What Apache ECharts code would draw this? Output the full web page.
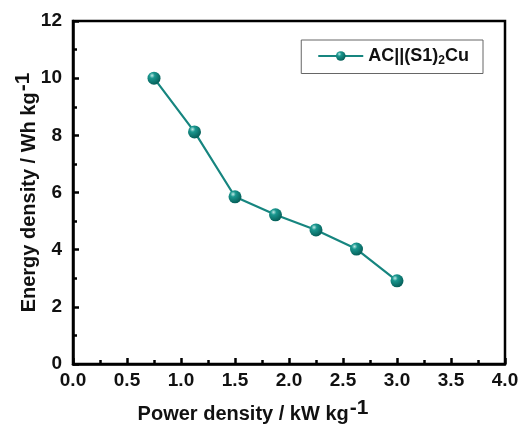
<!DOCTYPE html>
<html><head><meta charset="utf-8">
<script src="https://cdn.jsdelivr.net/npm/echarts@6/dist/echarts.min.js"></script>
<style>html,body{margin:0;padding:0;background:#fff}#c{width:519px;height:425px}</style>
</head><body><div id="c"></div>
<script>
const powerDensity = [0.75, 1.125, 1.5, 1.875, 2.25, 2.625, 3.0];
const energyDensity = [10.0, 8.12, 5.85, 5.22, 4.69, 4.02, 2.91];
const seriesName = 'AC||(S1)2Cu';
const xTicks = { min: 0, max: 4, interval: 0.5 };
const yTicks = { min: 0, max: 12, interval: 2 };

const chart = echarts.init(document.getElementById('c'));
const teal = '#16857f';
const sphere = new echarts.graphic.RadialGradient(0.35, 0.3, 0.7, [
  { offset: 0, color: '#bfeae6' },
  { offset: 0.3, color: '#1a978f' },
  { offset: 1, color: '#06605a' }
]);
const font = 'Liberation Sans, Arial, sans-serif';
chart.setOption({
  animation: false,
  grid: { left: 73, top: 21, right: 14, bottom: 61, show: true, borderColor: '#000', borderWidth: 2.5,
          containLabel: false, outerBoundsMode: 'none' },
  legend: {
    right: 36, top: 40,
    padding: [7, 14, 7, 16],
    borderColor: '#666', borderWidth: 1,
    itemWidth: 45, itemHeight: 12, itemGap: 5,
    formatter: () => '{a|AC||(S1)}{s|2}{a|Cu}',
    textStyle: {
      rich: {
        a: { fontFamily: font, fontWeight: 'bold', fontSize: 18, color: '#111' },
        s: { fontFamily: font, fontWeight: 'bold', fontSize: 12, color: '#111', verticalAlign: 'bottom', padding: [9, 0, 0, 0] }
      }
    }
  },
  xAxis: {
    type: 'value', min: xTicks.min, max: xTicks.max, interval: xTicks.interval,
    name: '{n|Power density / kW kg}{p|-1}', nameLocation: 'middle', nameGap: 34,
    nameTextStyle: { padding: [0, 72, 0, 0], rich: {
      n: { fontFamily: font, fontWeight: 'bold', fontSize: 20, color: '#111' },
      p: { fontFamily: font, fontWeight: 'bold', fontSize: 21, color: '#111', padding: [0, 0, 12, 1] }
    }},
    axisLine: { show: true, lineStyle: { color: '#000', width: 2.5 } },
    axisTick: { show: true, inside: true, length: 6, lineStyle: { color: '#000', width: 2.5 } },
    minorTick: { show: true, splitNumber: 2, length: 4, lineStyle: { color: '#000', width: 2.5 } },
    splitLine: { show: false },
    axisLabel: { fontFamily: font, fontWeight: 'bold', fontSize: 19, color: '#111', margin: 7, formatter: v => v.toFixed(1) }
  },
  yAxis: {
    type: 'value', min: yTicks.min, max: yTicks.max, interval: yTicks.interval,
    name: '{n|Energy density / Wh kg}{p|-1}', nameLocation: 'middle', nameGap: 27, nameRotate: 90,
    nameMoveOverlap: false,
    nameTextStyle: { rich: {
      n: { fontFamily: font, fontWeight: 'bold', fontSize: 20, color: '#111' },
      p: { fontFamily: font, fontWeight: 'bold', fontSize: 21, color: '#111', padding: [0, 0, 12, 1] }
    }},
    axisLine: { show: true, lineStyle: { color: '#000', width: 2.5 } },
    axisTick: { show: true, inside: true, length: 6, lineStyle: { color: '#000', width: 2.5 } },
    minorTick: { show: true, splitNumber: 2, length: 4, lineStyle: { color: '#000', width: 2.5 } },
    splitLine: { show: false },
    axisLabel: { fontFamily: font, fontWeight: 'bold', fontSize: 19, color: '#111', margin: 11 }
  },
  series: [{
    name: seriesName, type: 'line',
    data: powerDensity.map((x, i) => [x, energyDensity[i]]),
    symbol: 'circle', symbolSize: 13,
    lineStyle: { color: teal, width: 2.2 },
    itemStyle: { color: sphere, borderWidth: 0 }
  }]
});
</script></body></html>
